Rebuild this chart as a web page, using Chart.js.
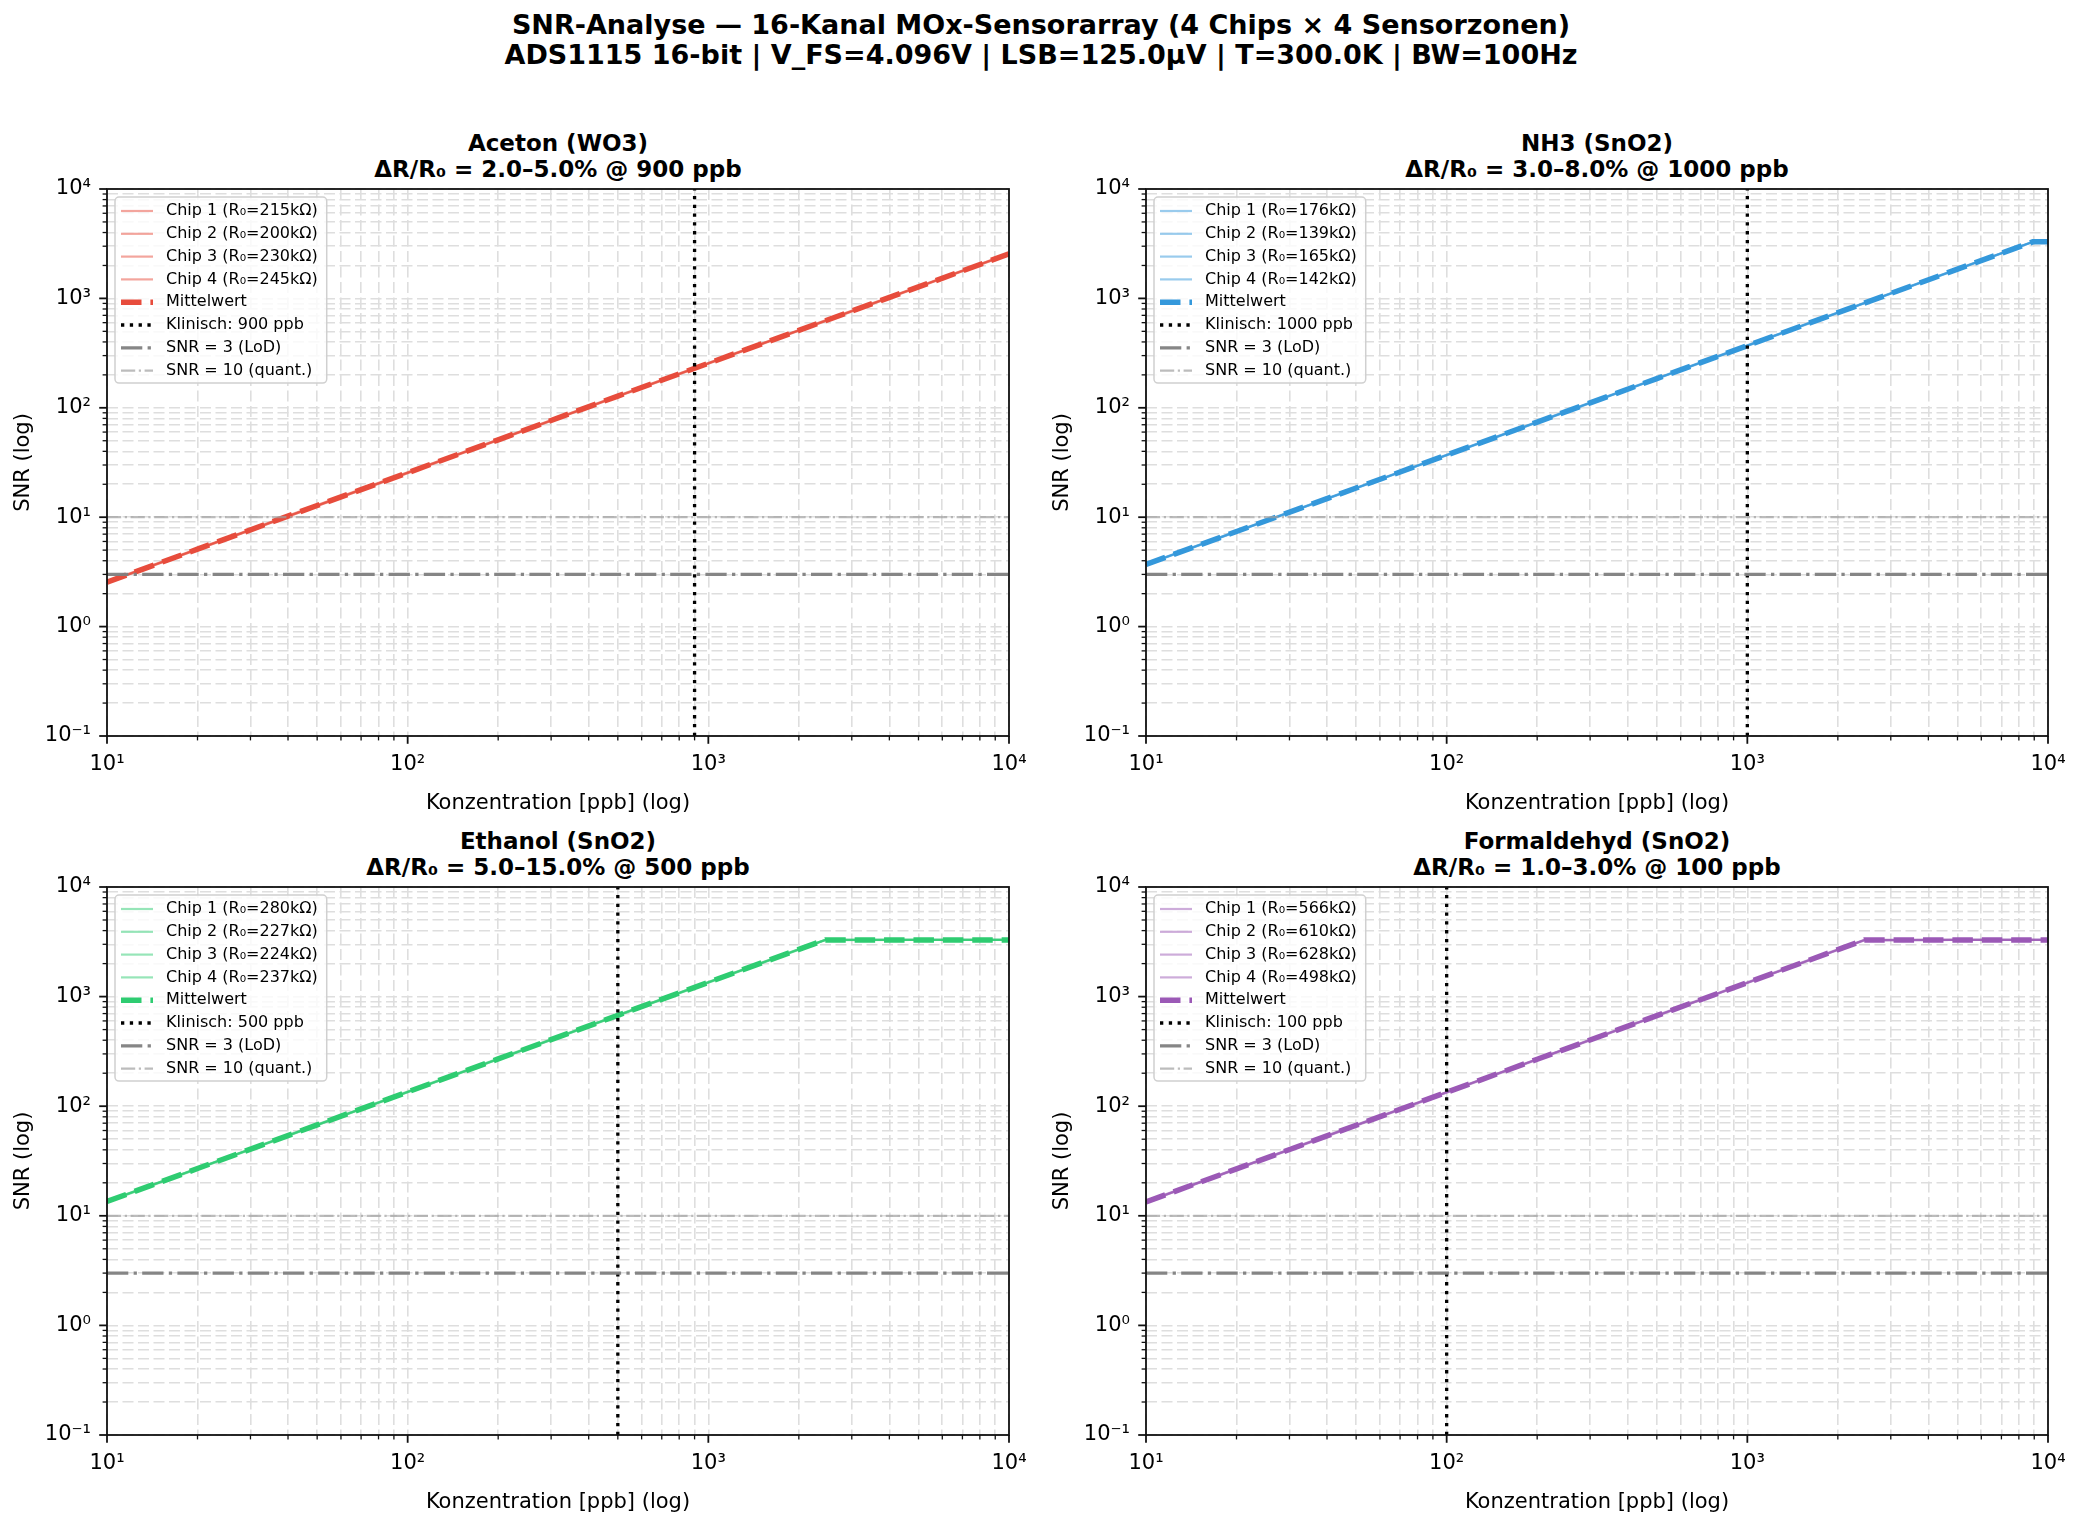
<!DOCTYPE html>
<html><head><meta charset="utf-8">
<script src="https://cdn.jsdelivr.net/npm/chart.js@4.4.1/dist/chart.umd.min.js"></script>
<style>
html,body{margin:0;padding:0;background:#fff;}
body{width:2082px;height:1518px;position:relative;overflow:hidden;font-family:'DejaVu Sans',sans-serif;color:#000;}
.sup{position:absolute;left:0;width:2082px;text-align:center;font-weight:bold;font-size:27px;line-height:30px;top:10px;white-space:nowrap;}
.sub{position:absolute;width:902px;text-align:center;font-weight:bold;font-size:23px;line-height:25.6px;white-space:nowrap;}
canvas{position:absolute;}
</style></head>
<body>
<div class="sup">SNR-Analyse — 16-Kanal MOx-Sensorarray (4 Chips × 4 Sensorzonen)<br>ADS1115 16-bit | V_FS=4.096V | LSB=125.0µV | T=300.0K | BW=100Hz</div>
<script>
// ---------------- DATA ----------------
const concentration = [10, 20, 50, 100, 200, 500, 1000, 2000, 2450, 5000, 8900, 10000];

const gasNames = ['Aceton (WO3)', 'NH3 (SnO2)', 'Ethanol (SnO2)', 'Formaldehyd (SnO2)'];
const gasSubtitles = ['ΔR/R₀ = 2.0–5.0% @ 900 ppb', 'ΔR/R₀ = 3.0–8.0% @ 1000 ppb', 'ΔR/R₀ = 5.0–15.0% @ 500 ppb', 'ΔR/R₀ = 1.0–3.0% @ 100 ppb'];
const clinicalPpb = [900, 1000, 500, 100];
const chipR0 = [[215, 200, 230, 245], [176, 139, 165, 142], [280, 227, 224, 237], [566, 610, 628, 498]];

const acetonMean = [2.55, 5.1, 12.8, 25.5, 51, 128, 255, 510, 625, 1275, 2270, 2550];
const acetonChips = [
  [2.57, 5.14, 12.9, 25.7, 51.4, 129, 257, 514, 630, 1285, 2288, 2570],
  [2.53, 5.06, 12.7, 25.3, 50.6, 127, 253, 506, 620, 1265, 2252, 2530],
  [2.56, 5.12, 12.8, 25.6, 51.2, 128, 256, 512, 627, 1280, 2278, 2560],
  [2.54, 5.08, 12.7, 25.4, 50.8, 127, 254, 508, 622, 1270, 2261, 2540]
];
const nh3Mean = [3.7, 7.4, 18.5, 37, 74, 185, 370, 740, 906, 1850, 3290, 3290];
const nh3Chips = [
  [3.72, 7.44, 18.6, 37.2, 74.4, 186, 372, 744, 911, 1860, 3290, 3290],
  [3.68, 7.36, 18.4, 36.8, 73.6, 184, 368, 736, 902, 1840, 3275, 3290],
  [3.71, 7.42, 18.5, 37.1, 74.2, 185, 371, 742, 908, 1855, 3290, 3290],
  [3.69, 7.38, 18.4, 36.9, 73.8, 184, 369, 738, 904, 1845, 3285, 3290]
];
const ethanolMean = [13.5, 27, 67.5, 135, 270, 675, 1350, 2700, 3290, 3290, 3290, 3290];
const ethanolChips = [
  [13.6, 27.2, 68, 136, 272, 680, 1360, 2720, 3290, 3290, 3290, 3290],
  [13.4, 26.8, 67, 134, 268, 670, 1340, 2680, 3280, 3290, 3290, 3290],
  [13.5, 27.0, 67.5, 135, 270, 675, 1350, 2700, 3290, 3290, 3290, 3290],
  [13.5, 27.0, 67.4, 135, 269, 674, 1348, 2695, 3290, 3290, 3290, 3290]
];
const formaldehydMean = [13.4, 26.8, 67, 134, 268, 670, 1340, 2680, 3280, 3290, 3290, 3290];
const formaldehydChips = [
  [13.5, 27.0, 67.5, 135, 270, 675, 1350, 2700, 3290, 3290, 3290, 3290],
  [13.3, 26.6, 66.5, 133, 266, 665, 1330, 2660, 3260, 3290, 3290, 3290],
  [13.4, 26.8, 67, 134, 268, 670, 1340, 2680, 3280, 3290, 3290, 3290],
  [13.4, 26.8, 67, 134, 268, 670, 1340, 2680, 3280, 3290, 3290, 3290]
];
const meanSeries = [acetonMean, nh3Mean, ethanolMean, formaldehydMean];
const chipSeries = [acetonChips, nh3Chips, ethanolChips, formaldehydChips];

const lodLevel = [3, 3];          // SNR = 3 (LoD)
const quantLevel = [10, 10];      // SNR = 10 (quant.)
const hlineSpan = [10, 10000];    // x extent of horizontal reference lines
const clinicalSpan = [0.1, 10000];// y extent of clinical vertical line

const xTickValues = [10,20,30,40,50,60,70,80,90,100,200,300,400,500,600,700,800,900,1000,2000,3000,4000,5000,6000,7000,8000,9000,10000];
const xTickLabels = ['10¹','','','','','','','','','10²','','','','','','','','','10³','','','','','','','','','10⁴'];
const yTickValues = [0.1,0.2,0.3,0.4,0.5,0.6,0.7,0.8,0.9,1,2,3,4,5,6,7,8,9,10,20,30,40,50,60,70,80,90,100,200,300,400,500,600,700,800,900,1000,2000,3000,4000,5000,6000,7000,8000,9000,10000];
const yTickLabels = ['10⁻¹','','','','','','','','','10⁰','','','','','','','','','10¹','','','','','','','','','10²','','','','','','','','','10³','','','','','','','','','10⁴'];
const majorValues = [0.1, 1, 10, 100, 1000, 10000];

// ---------------- STYLE ----------------
const gasColors = ['#e74c3c', '#3498db', '#2ecc71', '#9b59b6'];
const panels = [
  {L: 107, T: 189, H: 547}, {L: 1146, T: 189, H: 547},
  {L: 107, T: 887, H: 548}, {L: 1146, T: 887, H: 548}
];
const PW = 902, PAD_T = 15, PAD_R = 25, XAX_H = 80, YAX_W = 107;

Chart.defaults.font.family = "'DejaVu Sans', sans-serif";
Chart.defaults.color = '#000';

function rgba(hex, a) {
  const n = parseInt(hex.slice(1), 16);
  return `rgba(${(n >> 16) & 255},${(n >> 8) & 255},${n & 255},${a})`;
}

const frameTicks = {
  id: 'frameTicks',
  afterDatasetsDraw(chart) {
    const ctx = chart.ctx, a = chart.chartArea;
    const xs = chart.scales.x, ys = chart.scales.y;
    ctx.save();
    ctx.strokeStyle = '#111';
    ctx.setLineDash([]);
    xs.ticks.forEach(t => {
      const major = majorValues.includes(t.value);
      const p = xs.getPixelForValue(t.value);
      ctx.lineWidth = major ? 1.8 : 1.3;
      ctx.beginPath(); ctx.moveTo(p, a.bottom); ctx.lineTo(p, a.bottom + (major ? 7.8 : 4.4)); ctx.stroke();
    });
    ys.ticks.forEach(t => {
      const major = majorValues.includes(t.value);
      const p = ys.getPixelForValue(t.value);
      ctx.lineWidth = major ? 1.8 : 1.3;
      ctx.beginPath(); ctx.moveTo(a.left, p); ctx.lineTo(a.left - (major ? 7.8 : 4.4), p); ctx.stroke();
    });
    ctx.lineWidth = 1.8;
    ctx.strokeRect(a.left, a.top, a.right - a.left, a.bottom - a.top);
    ctx.restore();
  }
};

const insideLegend = {
  id: 'insideLegend',
  afterDatasetsDraw(chart) {
    const ctx = chart.ctx, a = chart.chartArea;
    const ds = chart.data.datasets;
    ctx.save();
    ctx.font = "16px 'DejaVu Sans'";
    let maxW = 0;
    ds.forEach(d => { maxW = Math.max(maxW, ctx.measureText(d.label).width); });
    const x0 = a.left + 8, y0 = a.top + 8;
    const rowH = 22.8, padTop = 14, padBottom = 12.5;
    const w = 6 + 32 + 13 + maxW + 9;
    const h = padTop + (ds.length - 1) * rowH + padBottom;
    const r = 4;
    ctx.beginPath();
    ctx.moveTo(x0 + r, y0);
    ctx.arcTo(x0 + w, y0, x0 + w, y0 + h, r);
    ctx.arcTo(x0 + w, y0 + h, x0, y0 + h, r);
    ctx.arcTo(x0, y0 + h, x0, y0, r);
    ctx.arcTo(x0, y0, x0 + w, y0, r);
    ctx.closePath();
    ctx.fillStyle = 'rgba(255,255,255,0.8)';
    ctx.fill();
    ctx.lineWidth = 1.5;
    ctx.strokeStyle = '#d0d0d0';
    ctx.stroke();
    ds.forEach((d, i) => {
      const cy = y0 + padTop + i * rowH;
      ctx.save();
      ctx.strokeStyle = d.borderColor;
      ctx.lineWidth = d.borderWidth;
      ctx.setLineDash(d.borderDash || []);
      ctx.lineCap = 'butt';
      ctx.beginPath(); ctx.moveTo(x0 + 6, cy); ctx.lineTo(x0 + 38, cy); ctx.stroke();
      ctx.restore();
      ctx.fillStyle = '#000';
      ctx.textBaseline = 'middle';
      ctx.textAlign = 'left';
      ctx.fillText(d.label, x0 + 51, cy);
    });
    ctx.restore();
  }
};

panels.forEach((p, g) => {
  // titles
  const t = document.createElement('div');
  t.className = 'sub';
  t.style.left = p.L + 'px';
  t.style.top = (p.T - 58) + 'px';
  t.innerHTML = gasNames[g] + '<br>' + gasSubtitles[g];
  document.body.appendChild(t);

  const cw = YAX_W + PW + PAD_R, ch = PAD_T + p.H + XAX_H;
  const cv = document.createElement('canvas');
  cv.width = cw; cv.height = ch;
  cv.style.left = (p.L - YAX_W) + 'px';
  cv.style.top = (p.T - PAD_T) + 'px';
  cv.style.width = cw + 'px'; cv.style.height = ch + 'px';
  document.body.appendChild(cv);

  const col = gasColors[g];
  const datasets = [];
  chipSeries[g].forEach((vals, k) => {
    datasets.push({
      label: `Chip ${k + 1} (R₀=${chipR0[g][k]}kΩ)`,
      data: concentration.map((c, i) => ({x: c, y: vals[i]})),
      borderColor: rgba(col, 0.5), borderWidth: 2.2, borderDash: [], order: 50
    });
  });
  datasets.push({
    label: 'Mittelwert',
    data: concentration.map((c, i) => ({x: c, y: meanSeries[g][i]})),
    borderColor: col, borderWidth: 5.5, borderDash: [20.5, 8.9], order: 40
  });
  datasets.push({
    label: `Klinisch: ${clinicalPpb[g]} ppb`,
    data: clinicalSpan.map(v => ({x: clinicalPpb[g], y: v})),
    borderColor: '#000', borderWidth: 3.3, borderDash: [3.3, 5.5], order: 30
  });
  datasets.push({
    label: 'SNR = 3 (LoD)',
    data: hlineSpan.map((x, i) => ({x: x, y: lodLevel[i]})),
    borderColor: 'rgba(128,128,128,0.95)', borderWidth: 3.3, borderDash: [21.3, 5.3, 3.3, 5.3], order: 20
  });
  datasets.push({
    label: 'SNR = 10 (quant.)',
    data: hlineSpan.map((x, i) => ({x: x, y: quantLevel[i]})),
    borderColor: 'rgba(160,160,160,0.7)', borderWidth: 2.2, borderDash: [14.2, 3.6, 2.2, 3.6], order: 10
  });
  datasets.forEach(d => { d.fill = false; d.pointRadius = 0; d.tension = 0; d.borderCapStyle = 'butt'; });

  const gridOpts = {color: '#dedede', lineWidth: 1.6, drawTicks: false};
  new Chart(cv, {
    type: 'line',
    data: {datasets},
    options: {
      responsive: false, animation: false, events: [],
      layout: {padding: {top: PAD_T, right: PAD_R, bottom: 0, left: 0}},
      plugins: {legend: {display: false}, tooltip: {enabled: false}, title: {display: false}},
      scales: {
        x: {
          type: 'logarithmic', min: 10, max: 10000,
          afterBuildTicks: s => { s.ticks = xTickValues.map(v => ({value: v})); },
          afterFit: s => { s.height = XAX_H; s.paddingLeft = 0; s.paddingRight = 0; },
          ticks: {autoSkip: false, maxRotation: 0, minRotation: 0, padding: 16, color: '#000', font: {size: 21},
                  callback: (v, i) => xTickLabels[i]},
          grid: gridOpts,
          border: {display: false, dash: [11, 4.5]},
          title: {display: true, text: 'Konzentration [ppb] (log)', color: '#000', font: {size: 21}, padding: {top: 0, bottom: 0}}
        },
        y: {
          type: 'logarithmic', min: 0.1, max: 10000,
          afterBuildTicks: s => { s.ticks = yTickValues.map(v => ({value: v})); },
          afterFit: s => { s.width = YAX_W; s.paddingTop = 0; s.paddingBottom = 0; },
          ticks: {autoSkip: false, padding: 16, color: '#000', font: {size: 21},
                  callback: (v, i) => yTickLabels[i]},
          grid: gridOpts,
          border: {display: false, dash: [11, 4.5]},
          title: {display: true, text: 'SNR (log)', color: '#000', font: {size: 21}, padding: {top: 11, bottom: 0}}
        }
      }
    },
    plugins: [frameTicks, insideLegend]
  });
});
</script>
</body></html>
